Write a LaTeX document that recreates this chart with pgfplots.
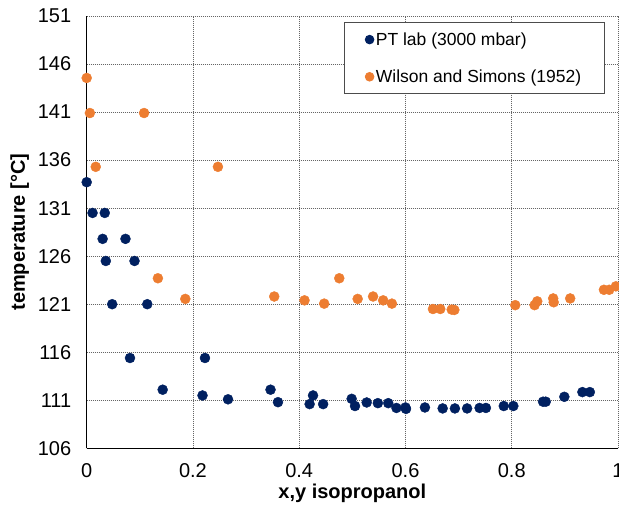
\documentclass[border=0pt]{standalone}
\usepackage{fontspec}
\setmainfont{Liberation Sans}
\usepackage{pgfplots}
\pgfplotsset{compat=1.18}
\definecolor{navy}{HTML}{002060}
\definecolor{orng}{HTML}{ED7D31}
\begin{document}
\begin{tikzpicture}
\begin{axis}[
  scale only axis, width=531.3pt, height=432.3pt,
  xmin=0, xmax=1, ymin=106, ymax=151,
  xtick={0,0.2,0.4,0.6,0.8,1}, xticklabels={0,0.2,0.4,0.6,0.8,1},
  ytick={106,111,116,121,126,131,136,141,146,151},
  axis x line*=bottom, axis y line*=left,
  axis line style={black, line width=1.3pt},
  tick style={draw=none},
  grid=major,
  major grid style={black!60, line width=0.9pt, dash pattern=on 1pt off 1pt},
  /pgf/number format/assume math mode=true,
  ticklabel style={font=\fontsize{20}{22}\selectfont},
  xticklabel style={yshift=-12pt},
  yticklabel style={xshift=-12pt},
  xlabel={\textbf{x,y isopropanol}},
  ylabel={\textbf{temperature [°C]}},
  label style={font=\fontsize{20}{22}\selectfont},
  xlabel style={at={(axis description cs:0.5,-0.104)}, anchor=center},
  ylabel style={at={(axis description cs:-0.126,0.5)}, anchor=center},
  legend style={at={(axis description cs:0.484,0.986)}, anchor=north west,
    draw=black!70, line width=0.9pt, font=\fontsize{17.5}{19}\selectfont,
    inner xsep=21pt, inner ysep=8pt, row sep=19pt},
  legend cell align=left,
  legend image code/.code={\draw[#1, mark size=4.3pt] plot coordinates {(0pt,0pt)};},
  clip=false,
]
\coordinate (bl) at (rel axis cs:0,0);
\addplot[only marks, mark=*, mark size=5pt, color=navy] coordinates {
(0,133.7) (0.011,130.5) (0.034,130.5) (0.030,127.8) (0.073,127.8)
(0.036,125.5) (0.090,125.5) (0.048,121.0) (0.114,121.0)
(0.0815,115.4) (0.2226,115.4) (0.143,112.1) (0.218,111.5) (0.266,111.1)
(0.346,112.1) (0.360,110.8) (0.4196,110.6) (0.426,111.5) (0.445,110.6)
(0.4987,111.15) (0.505,110.4) (0.527,110.77) (0.548,110.7) (0.5676,110.7)
(0.583,110.2) (0.600,110.25) (0.601,110.1) (0.6366,110.25) (0.670,110.15)
(0.693,110.15) (0.716,110.15) (0.7395,110.2) (0.7514,110.2)
(0.785,110.4) (0.803,110.4) (0.859,110.85) (0.864,110.85)
(0.899,111.36) (0.933,111.85) (0.947,111.85)
};
\addlegendentry{PT lab (3000 mbar)}
\addplot[only marks, mark=*, mark size=5pt, color=orng] coordinates {
(0,144.55) (0.006,140.9) (0.108,140.9) (0.017,135.3) (0.247,135.3)
(0.134,123.7) (0.1856,121.55) (0.353,121.8) (0.410,121.4) (0.447,121.06)
(0.4754,123.7) (0.510,121.55) (0.539,121.8) (0.558,121.4) (0.5745,121.06)
(0.6517,120.5) (0.6655,120.5) (0.687,120.44) (0.692,120.4)
(0.8066,120.9) (0.843,120.9) (0.848,121.3) (0.878,121.6) (0.879,121.2)
(0.910,121.6) (0.9735,122.5) (0.9835,122.5) (0.996,122.86)
};
\addlegendentry{Wilson and Simons (1952)}
\end{axis}
\pgfresetboundingbox
\path (bl) ++(-86.7pt,-62.7pt) rectangle ++(619pt,511pt);
\end{tikzpicture}
\end{document}
